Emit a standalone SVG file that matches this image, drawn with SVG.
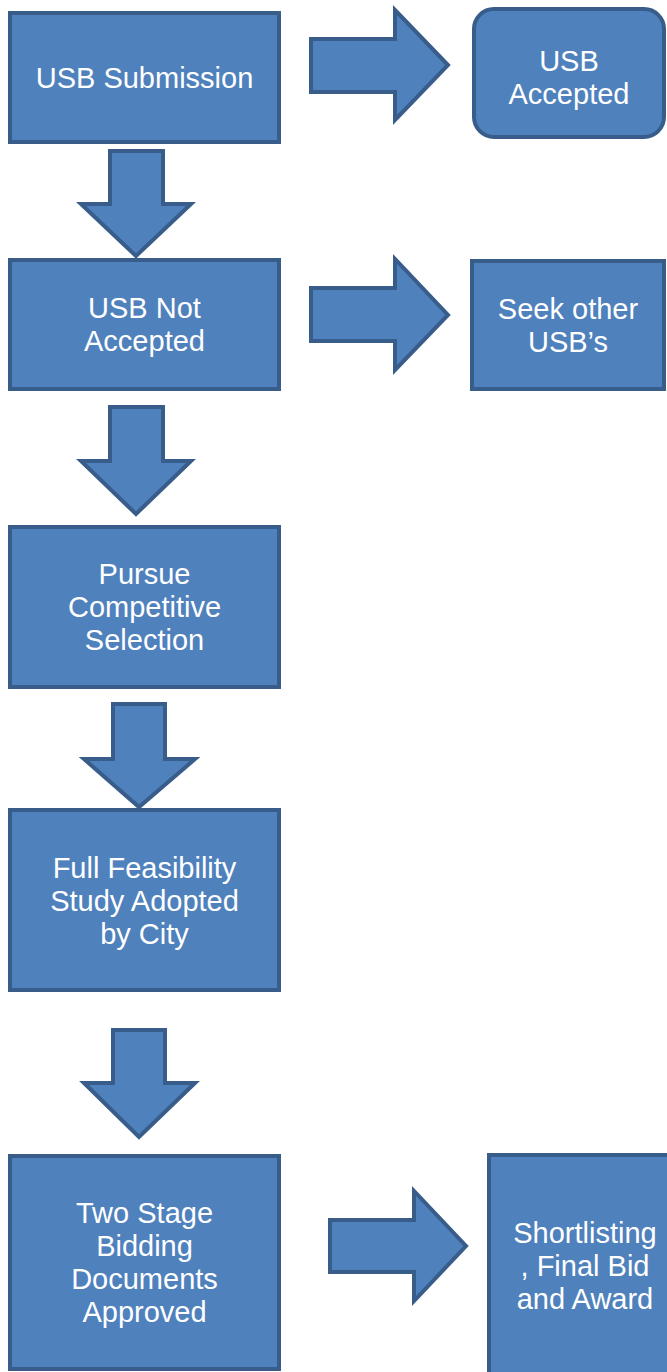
<svg xmlns="http://www.w3.org/2000/svg" width="667" height="1372" viewBox="0 0 667 1372">
<style>
.n{fill:#4F81BD;stroke:#385D8A;stroke-width:4;stroke-linejoin:miter}
.a{fill:#4F81BD;stroke:#385D8A;stroke-width:4;stroke-linejoin:miter}
.t{fill:#FFFFFF;font-family:"Liberation Sans",Arial,sans-serif;font-size:29px;text-anchor:middle}
</style>
<rect width="667" height="1372" fill="#FFFFFF"/>
<g id="connectors">
<polygon class="a" points="311,39 395,39 395,10 448,65 395,120 395,92 311,92"/>
<polygon class="a" points="311,288 395,288 395,259 448,315 395,370 395,341 311,341"/>
<polygon class="a" points="330,1220 414,1220 414,1191 466,1246 414,1301 414,1272 330,1272"/>
<polygon class="a" points="110,151 163,151 163,204 191,204 136,256 81,204 110,204"/>
<polygon class="a" points="110,407 163,407 163,461 191,461 136,514 81,461 110,461"/>
<polygon class="a" points="113,704 165,704 165,759 195,759 139,807 84,759 113,759"/>
<polygon class="a" points="113,1030 165,1030 165,1083 195,1083 139,1137 84,1083 113,1083"/>
</g>
<g id="usb-submission">
<rect class="n" x="10" y="13" width="269" height="129"/>
<text class="t" x="144.5" y="88">USB Submission</text>
</g>
<g id="usb-accepted">
<rect class="n" x="474" y="9" width="190" height="128" rx="20" ry="20"/>
<text class="t" x="569" y="71">USB</text>
<text class="t" x="569" y="104">Accepted</text>
</g>
<g id="usb-not-accepted">
<rect class="n" x="10" y="260" width="269" height="129"/>
<text class="t" x="144.5" y="318">USB Not</text>
<text class="t" x="144.5" y="351">Accepted</text>
</g>
<g id="seek-other">
<rect class="n" x="472" y="261" width="192" height="128"/>
<text class="t" x="568" y="319">Seek other</text>
<text class="t" x="568" y="352">USB’s</text>
</g>
<g id="pursue">
<rect class="n" x="10" y="527" width="269" height="160"/>
<text class="t" x="144.5" y="584">Pursue</text>
<text class="t" x="144.5" y="617">Competitive</text>
<text class="t" x="144.5" y="650">Selection</text>
</g>
<g id="feasibility">
<rect class="n" x="10" y="810" width="269" height="180"/>
<text class="t" x="144.5" y="878">Full Feasibility</text>
<text class="t" x="144.5" y="911">Study Adopted</text>
<text class="t" x="144.5" y="944">by City</text>
</g>
<g id="two-stage">
<rect class="n" x="10" y="1156" width="269" height="213"/>
<text class="t" x="144.5" y="1223">Two Stage</text>
<text class="t" x="144.5" y="1256">Bidding</text>
<text class="t" x="144.5" y="1289">Documents</text>
<text class="t" x="144.5" y="1322">Approved</text>
</g>
<g id="shortlisting">
<rect class="n" x="489" y="1155" width="200" height="230"/>
<text class="t" x="585" y="1243">Shortlisting</text>
<text class="t" x="585" y="1276">, Final Bid</text>
<text class="t" x="585" y="1309">and Award</text>
</g>
</svg>
